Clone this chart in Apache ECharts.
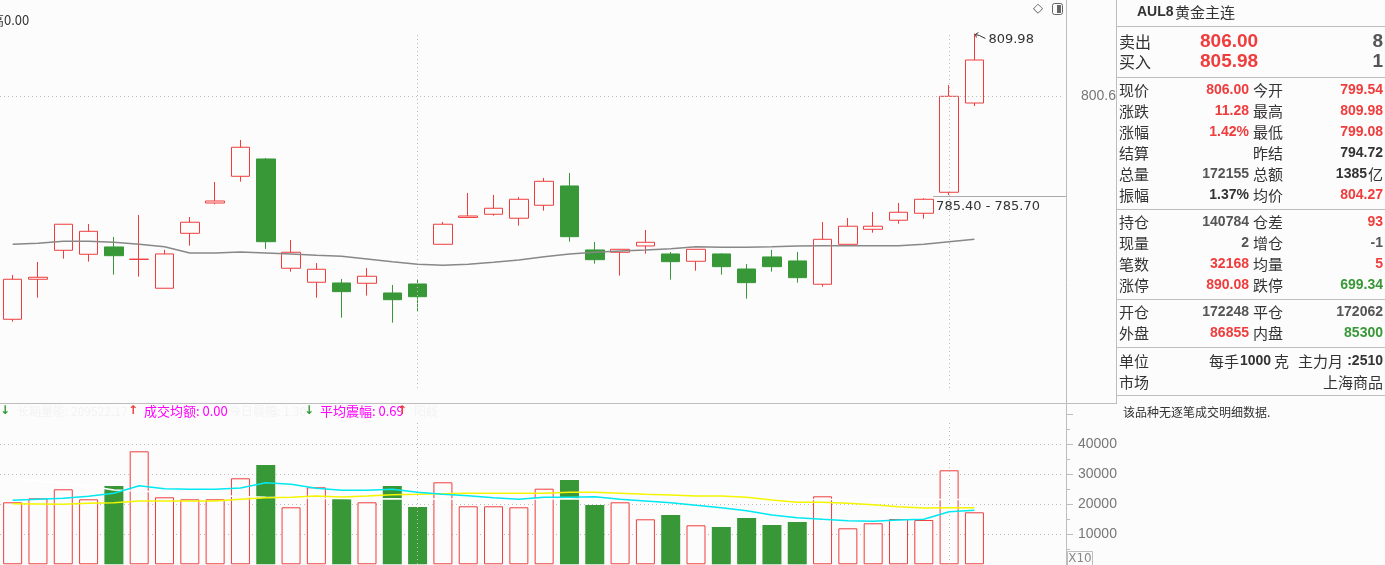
<!DOCTYPE html>
<html><head><meta charset="utf-8">
<script src="https://cdn.jsdelivr.net/npm/echarts@6/dist/echarts.min.js"></script>
<style>html,body{margin:0;padding:0;background:#fcfcfc;}#c{width:1385px;height:565px;}</style>
</head><body><div id="c"></div>
<script>
const categories = ['K01','K02','K03','K04','K05','K06','K07','K08','K09','K10','K11','K12','K13','K14','K15','K16','K17','K18','K19','K20','K21','K22','K23','K24','K25','K26','K27','K28','K29','K30','K31','K32','K33','K34','K35','K36','K37','K38','K39','K40','K41','K42'];
const opens  = [767.07,773.08,777.43,776.83,777.93,776.06,771.73,779.98,784.53,788.54,791.14,774.73,772.63,772.52,772.48,771.02,772.37,778.33,782.36,782.84,782.24,784.19,787.09,777.48,777.13,778.08,776.88,775.78,776.88,774.62,776.43,775.83,772.33,778.33,780.58,781.94,782.99,786.14,799.54];
const closes = [773.08,773.38,781.34,780.28,776.62,776.10,776.88,781.64,784.83,792.90,778.72,777.13,774.58,771.22,773.53,770.01,770.46,781.34,782.58,783.74,785.09,787.79,779.47,776.02,777.58,778.63,775.72,777.58,774.97,772.57,774.97,773.32,779.08,781.04,781.04,783.14,785.09,800.55,806.00];
const lows   = [766.71,770.31,776.17,775.72,773.77,773.47,771.73,778.12,784.34,787.73,777.63,774.22,770.31,767.31,770.62,766.56,768.21,778.33,782.36,782.63,781.13,783.38,778.72,775.42,773.62,776.92,773.02,774.37,773.77,770.16,774.22,772.57,771.97,778.33,780.07,781.43,782.18,785.74,799.08];
const highs  = [773.72,775.68,781.34,781.38,779.43,782.73,777.48,782.43,787.69,793.99,791.29,778.98,775.52,773.12,774.77,772.22,772.97,781.68,786.04,785.74,785.43,788.29,789.04,778.68,777.58,780.48,777.18,777.58,776.98,775.37,777.48,777.18,781.68,782.28,783.18,784.53,785.24,802.25,809.98];
const avgPrice = [778.33,778.48,778.78,778.78,778.63,778.33,777.97,777.03,777.03,777.18,777.03,776.88,776.68,776.53,776.13,775.72,775.33,775.18,775.33,775.63,775.98,776.47,776.88,777.13,777.33,777.48,777.67,777.97,777.88,777.88,777.97,778.08,778.12,778.12,778.12,778.12,778.33,778.72,779.08];
const volumes = [20667,22000,25000,21667,26100,37667,22333,21667,21667,28667,33100,19000,25667,21800,20667,26100,19100,27333,19333,19333,19000,25200,28100,19767,20667,15000,16433,13000,12433,15433,13100,14100,22667,12000,13667,15100,14767,31333,17333];
const volMaCyan = [21333,21667,22000,22667,23667,26200,25200,25000,25000,25433,27200,26667,25333,24667,24667,25000,24000,23333,22867,22200,21667,22333,22333,22533,21667,21100,20533,19667,18867,17867,16433,15533,15000,14533,14333,14767,15000,17533,18000];
const volMaYellow = [20200,20100,20000,20333,20533,21100,21100,21100,21100,21667,22200,22333,22767,22433,22767,23200,23333,23533,23667,23667,23667,23667,24000,24000,23667,23333,23100,22767,22767,22333,21433,20667,20667,20333,19867,19200,18767,18867,18867];
const volMaWhite = [28767,27767,26933,26100,24767,24433,23933,23433,22933,22600,22333,22267,21933,21933,21767,21867,21767,21767,21800,21750,21700,21760,21867,21650,21600,21620,21580,21600,21560,21600,21620,21580,21600,21560,21600,21580,21600,21620,21600];
const priceGridValue = 800.6;
const rangeLabel = '785.40 - 785.70';
const rangeLevel = 785.6;
const sepIndexes = [16, 37];
const volTicks = [10000, 20000, 30000, 40000];

const RED = '#f03c3c', GREEN = '#389838', BG = '#fcfcfc', LINE = '#bdbdbd';
const chart = echarts.init(document.getElementById('c'), null, {renderer: 'canvas'});
const candleData = opens.map((o, i) => [o, closes[i], lows[i], highs[i]]);
const volData = volumes.map((v, i) => closes[i] >= opens[i]
  ? {value: v, itemStyle: {color: BG, borderColor: RED, borderWidth: 1}}
  : {value: v, itemStyle: {color: GREEN, borderColor: GREEN, borderWidth: 0}});

const dotted = {color: '#bbbbbb', width: 1, type: [1, 3]};
const vLines = sepIndexes.map(i => [{coord: [i, 809.76]}, {coord: [i, 756.46]}]);
const vLinesVol = sepIndexes.map(i => [{coord: [i, 47100]}, {coord: [i, 0]}]);

chart.setOption({
  backgroundColor: BG,
  animation: false,
  grid: [
    {left: -2.7, right: 322, top: 0, height: 400},
    {left: -2.7, right: 322, top: 414.3, height: 150}
  ],
  xAxis: [
    {type: 'category', data: categories, gridIndex: 0, show: false, boundaryGap: true},
    {type: 'category', data: categories, gridIndex: 1, show: false, boundaryGap: true}
  ],
  yAxis: [
    {type: 'value', gridIndex: 0, min: 754.95, max: 815.01, show: false, scale: true},
    {type: 'value', gridIndex: 1, min: 0, max: 50000, interval: 10000, position: 'right', offset: 3,
     axisLine: {show: false},
     axisTick: {show: true, length: 7, lineStyle: {color: LINE}},
     minorTick: {show: true, splitNumber: 2, length: 4, lineStyle: {color: LINE}},
     axisLabel: {color: '#777', fontSize: 14, margin: 12, fontFamily: 'Liberation Sans',
                 formatter: v => volTicks.indexOf(v) >= 0 ? String(v) : ''},
     splitLine: {show: true, showMinLine: false, showMaxLine: false, lineStyle: dotted}}
  ],
  series: [
    {type: 'line', xAxisIndex: 0, yAxisIndex: 0, data: [], z: 1, silent: true,
     markLine: {silent: true, symbol: 'none', label: {show: false}, lineStyle: dotted, data: vLines}},
    {type: 'line', xAxisIndex: 1, yAxisIndex: 1, data: [], z: 1, silent: true,
     markLine: {silent: true, symbol: 'none', label: {show: false}, lineStyle: dotted, data: vLinesVol}},
    {type: 'candlestick', xAxisIndex: 0, yAxisIndex: 0, data: candleData, barWidth: 19, z: 3,
     itemStyle: {color: BG, color0: GREEN, borderColor: RED, borderColor0: GREEN, borderWidth: 1},
     markLine: {silent: true, symbol: 'none', lineStyle: dotted,
       label: {show: true, position: 'end', distance: 18, formatter: String(priceGridValue), color: '#777', fontSize: 14, fontFamily: 'Liberation Sans'},
       data: [{yAxis: priceGridValue}]}},
    {type: 'line', xAxisIndex: 0, yAxisIndex: 0, data: avgPrice, symbol: 'none', z: 4,
     lineStyle: {color: '#888888', width: 1.6}},
    {type: 'bar', xAxisIndex: 1, yAxisIndex: 1, data: volData, barWidth: 19, z: 3},
    {type: 'line', xAxisIndex: 1, yAxisIndex: 1, data: volMaWhite, symbol: 'none', z: 4, lineStyle: {color: '#ffffff', width: 1.5}},
    {type: 'line', xAxisIndex: 1, yAxisIndex: 1, data: volMaYellow, symbol: 'none', z: 5, lineStyle: {color: '#f5f500', width: 1.5}},
    {type: 'line', xAxisIndex: 1, yAxisIndex: 1, data: volMaCyan, symbol: 'none', z: 6, lineStyle: {color: '#00e8f0', width: 1.5}}
  ]
});

function T(x, y, text, fill, font, align) {
  return {type: 'text', x: x, y: y, z: 100, silent: true,
    style: {text: text, fill: fill, font: font, textAlign: align || 'left', textVerticalAlign: 'middle'}};
}
function L(x1, y1, x2, y2, stroke, w) {
  return {type: 'line', z: 90, silent: true, shape: {x1: x1, y1: y1, x2: x2, y2: y2}, style: {stroke: stroke || LINE, lineWidth: w || 1}};
}
const CJK = '"Noto Sans CJK SC"';
const labF = '15px ' + CJK;
const numF = 'bold 14px "Liberation Sans"';
const bigF = 'bold 19px "Liberation Sans"';
const DK = '#333333', GR = '#555555', MAG = '#ff00ff', FAINT = '#f3f3f3';

const hi = chart.convertToPixel({xAxisIndex: 0, yAxisIndex: 0}, [highs.length - 1, highs[highs.length - 1]]);
const ref = chart.convertToPixel({xAxisIndex: 0, yAxisIndex: 0}, [sepIndexes[1], rangeLevel]);

const g = [];
g.push(L(1066.5, 0, 1066.5, 565));
g.push(L(1116.5, 0, 1116.5, 404));
g.push(L(0, 403.5, 1116, 403.5));
g.push(T(-9, 20, '高0.00', DK, '13px ' + CJK));
g.push(T(1038, 9, '◇', '#555', '13px "DejaVu Sans"', 'center'));
g.push({type: 'rect', z: 100, shape: {x: 1052.5, y: 3.5, width: 10, height: 11, r: 2}, style: {fill: 'none', stroke: '#666', lineWidth: 1}});
g.push({type: 'rect', z: 100, shape: {x: 1057, y: 5, width: 4, height: 8}, style: {fill: '#666'}});
g.push({type: 'polyline', z: 100, shape: {points: [[hi[0] + 1, hi[1] + 1], [hi[0] + 5, hi[1] + 2], [hi[0] + 11, hi[1] + 5]]}, style: {stroke: '#333', lineWidth: 1, fill: 'none'}});
g.push(L(hi[0] + 1, hi[1] + 1, hi[0] + 4, hi[1] - 1, '#333'));
g.push(L(hi[0] + 1, hi[1] + 1, hi[0] + 2, hi[1] + 4, '#333'));
g.push(T(hi[0] + 14, hi[1] + 6, String(highs[highs.length - 1].toFixed(2)), DK, '13px "DejaVu Sans"'));
g.push(L(ref[0] - 16, Math.round(ref[1]) + 0.5, 1066, Math.round(ref[1]) + 0.5, '#aaaaaa'));
g.push(T(ref[0] - 13, ref[1] + 11, rangeLabel, DK, '13px "DejaVu Sans"'));
const hy = 411;
g.push(T(5, hy, '↓', GREEN, 'bold 12px "DejaVu Sans"', 'center'));
g.push(T(17, hy, '长期量能: 209522.17', FAINT, '12px ' + CJK));
g.push(T(133, hy, '↑', RED, 'bold 12px "DejaVu Sans"', 'center'));
g.push(T(144, hy, '成交均额: 0.00', MAG, '13px ' + CJK));
g.push(T(229, hy, '今日震幅: 1.30', FAINT, '12px ' + CJK));
g.push(T(309, hy, '↓', GREEN, 'bold 12px "DejaVu Sans"', 'center'));
g.push(T(320, hy, '平均震幅: 0.69', MAG, '13px ' + CJK));
g.push(T(402, hy, '↑', RED, 'bold 12px "DejaVu Sans"', 'center'));
g.push(T(414, hy, '阳线', FAINT, '12px ' + CJK));
g.push({type: 'rect', z: 100, shape: {x: 1067.5, y: 551.5, width: 25, height: 16}, style: {fill: BG, stroke: LINE, lineWidth: 1}});
g.push(T(1080, 559, 'X10', '#888', '12px "DejaVu Sans"', 'center'));

g.push(T(1137, 12, 'AUL8', DK, 'bold 14px "Liberation Sans"'));
g.push(T(1175, 12, '黄金主连', DK, '15px ' + CJK));
g.push(L(1116, 26.5, 1385, 26.5));
g.push(T(1119, 42, '卖出', DK, '16px ' + CJK));
g.push(T(1200, 42, '806.00', RED, bigF));
g.push(T(1383, 42, '8', GR, bigF, 'right'));
g.push(T(1119, 62, '买入', DK, '16px ' + CJK));
g.push(T(1200, 62, '805.98', RED, bigF));
g.push(T(1383, 62, '1', GR, bigF, 'right'));
g.push(L(1116, 77.5, 1385, 77.5));
const rows1 = [
  ['现价', '806.00', RED, '今开', '799.54', RED],
  ['涨跌', '11.28', RED, '最高', '809.98', RED],
  ['涨幅', '1.42%', RED, '最低', '799.08', RED],
  ['结算', '', DK, '昨结', '794.72', DK],
  ['总量', '172155', GR, '总额', '1385亿', DK],
  ['振幅', '1.37%', DK, '均价', '804.27', RED]
];
const ys1 = [90, 111, 132, 153, 174, 195];
const rows2 = [
  ['持仓', '140784', GR, '仓差', '93', RED],
  ['现量', '2', GR, '增仓', '-1', GR],
  ['笔数', '32168', RED, '均量', '5', RED],
  ['涨停', '890.08', RED, '跌停', '699.34', GREEN]
];
const ys2 = [222, 243, 264, 285];
const rows3 = [
  ['开仓', '172248', GR, '平仓', '172062', GR],
  ['外盘', '86855', RED, '内盘', '85300', GREEN]
];
const ys3 = [312, 333];
function addRows(rows, ys) {
  rows.forEach((r, i) => {
    const y = ys[i];
    g.push(T(1119, y, r[0], DK, labF));
    g.push(T(1249, y, r[1], r[2], numF, 'right'));
    g.push(T(1253, y, r[3], DK, labF));
    if (r[4].indexOf('亿') >= 0) {
      g.push(T(1367, y, r[4].replace('亿', ''), r[5], numF, 'right'));
      g.push(T(1383, y, '亿', r[5], labF, 'right'));
    } else {
      g.push(T(1383, y, r[4], r[5], numF, 'right'));
    }
  });
}
addRows(rows1, ys1);
g.push(L(1116, 209.5, 1385, 209.5));
addRows(rows2, ys2);
g.push(L(1116, 299.5, 1385, 299.5));
addRows(rows3, ys3);
g.push(L(1116, 347.5, 1385, 347.5));
g.push(T(1119, 361, '单位', DK, labF));
g.push(T(1209, 361, '每手', DK, labF));
g.push(T(1240, 361, '1000', DK, numF));
g.push(T(1274, 361, '克', DK, labF));
g.push(T(1298, 361, '主力月', DK, labF));
g.push(T(1383, 361, ':2510', DK, numF, 'right'));
g.push(T(1119, 382, '市场', DK, labF));
g.push(T(1383, 382, '上海商品', DK, labF, 'right'));
g.push(L(1116, 395.5, 1385, 395.5));
g.push(T(1123, 412, '该品种无逐笔成交明细数据.', DK, '12px ' + CJK));

chart.setOption({graphic: g});
</script></body></html>
